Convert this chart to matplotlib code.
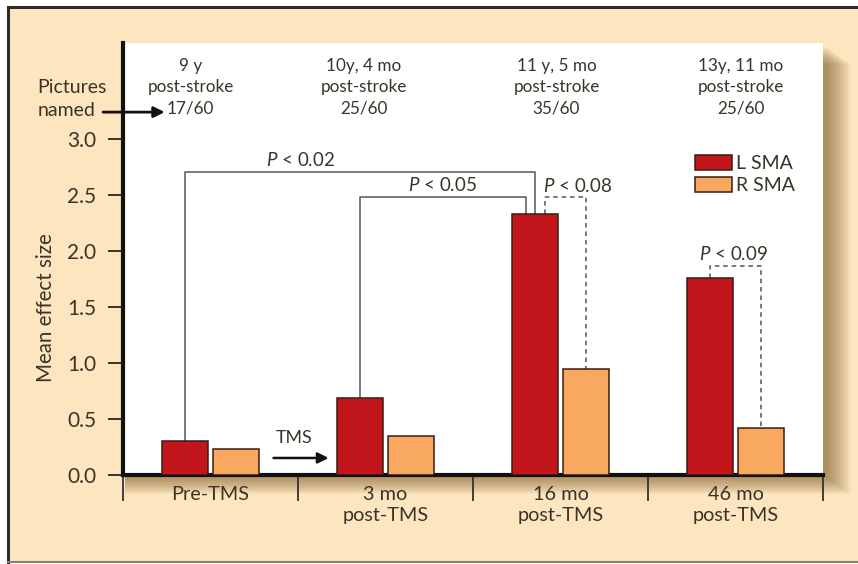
import matplotlib
matplotlib.use("Agg")
import matplotlib.pyplot as plt
from matplotlib.patches import Rectangle
from matplotlib.lines import Line2D

# data
groups = ["Pre-TMS", "3 mo\npost-TMS", "16 mo\npost-TMS", "46 mo\npost-TMS"]
l_sma = [0.30, 0.69, 2.33, 1.76]
r_sma = [0.23, 0.35, 0.95, 0.42]
top_notes = ["9 y\npost-stroke\n17/60", "10y, 4 mo\npost-stroke\n25/60",
             "11 y, 5 mo\npost-stroke\n35/60", "13y, 11 mo\npost-stroke\n25/60"]
yticks = [0.0, 0.5, 1.0, 1.5, 2.0, 2.5, 3.0]

plt.rcParams['font.family'] = ['Lato', 'DejaVu Sans']
plt.rcParams['mathtext.fontset'] = 'custom'
plt.rcParams['mathtext.it'] = 'Lato:italic'
plt.rcParams['mathtext.rm'] = 'Lato'

txt = '#3a3328'
cream = '#fde6bf'
red = '#c3161c'
orange = '#f8a95f'
edge = '#3a1c12'

W, H = 858, 564
fig = plt.figure(figsize=(W / 100, H / 100), dpi=100, facecolor='white')

# outer cream panel with top / left / bottom rules
fig.patches.append(Rectangle((8 / W, 1 - 562 / H), 1.0, (562 - 7) / H,
                             transform=fig.transFigure, facecolor=cream,
                             edgecolor='none', zorder=0))
fig.lines.append(Line2D([8 / W, 1], [1 - 7 / H, 1 - 7 / H], transform=fig.transFigure,
                        color='#2a2a2a', lw=2.2))
fig.lines.append(Line2D([8 / W, 8 / W], [1 - 7 / H, 1 - 562 / H], transform=fig.transFigure,
                        color='#2a2a2a', lw=2.2))
fig.lines.append(Line2D([8 / W, 1], [1 - 562 / H, 1 - 562 / H], transform=fig.transFigure,
                        color='#8a8070', lw=1.5))

ax_l, ax_r, ax_b, ax_t = 123, 823, 475, 43
# drop shadow behind white plot area
for k in range(18):
    fig.patches.append(Rectangle(((ax_l + 2) / W, 1 - (ax_b + 2 + k) / H),
                                 (ax_r - ax_l + 2 + 1.4 * k) / W, (ax_b - ax_t - 2) / H,
                                 transform=fig.transFigure, facecolor='#7a5420',
                                 edgecolor='none', alpha=0.045, zorder=1))

ax = fig.add_axes([ax_l / W, 1 - ax_b / H, (ax_r - ax_l) / W, (ax_b - ax_t) / H])
ax.set_facecolor('white')
ax.set_zorder(2)

x = range(len(groups))
w = 0.262
off = 0.145
xl = [i - off for i in x]
xr = [i + off for i in x]
ax.bar(xl, l_sma, w, color=red, edgecolor=edge, lw=1.1, label='L SMA', zorder=3)
ax.bar(xr, r_sma, w, color=orange, edgecolor=edge, lw=1.1, label='R SMA', zorder=3)

ax.set_xlim(-0.5, 3.5)
ax.set_ylim(0, (ax_b - ax_t) / 112)

for s in ['top', 'right']:
    ax.spines[s].set_visible(False)
ax.spines['left'].set_linewidth(3)
ax.spines['bottom'].set_linewidth(3)
ax.spines['left'].set_color('#111111')
ax.spines['bottom'].set_color('#111111')

ax.set_yticks(yticks)
ax.set_yticklabels([f"{v:.1f}" for v in yticks], fontsize=15, color=txt)
ax.tick_params(axis='y', direction='out', length=11, width=1.4, pad=8, color='#333333')

ax.set_xticks(list(x))
ax.set_xticklabels(groups, fontsize=14.3, color=txt, linespacing=1.3)
ax.tick_params(axis='x', which='major', length=0, pad=8)
ax.set_xticks([-0.5, 0.5, 1.5, 2.5, 3.5], minor=True)
ax.tick_params(axis='x', which='minor', direction='out', length=19, width=1.3, color='#333333')

ax.set_ylabel("Mean effect size", fontsize=14.8, color=txt)
ax.yaxis.set_label_coords((56 - ax_l) / 700, (ax_b - 308) / 432)

# top notes
note_x = [-0.114, 0.874, 1.977, 3.03]
for nx, note in zip(note_x, top_notes):
    ax.text(nx, 3.46, note, ha='center', va='center', fontsize=12.3, color=txt,
            linespacing=1.4)

ax.text(-0.99, 3.46, "Pictures", ha='left', va='center', fontsize=14, color=txt, clip_on=False)
ax.text(-0.99, 3.25, "named", ha='left', va='center', fontsize=14, color=txt, clip_on=False)
ax.annotate("", xy=(-0.262, 3.24), xytext=(-0.614, 3.24),
            arrowprops=dict(arrowstyle='-|>', color='#111111', lw=2, mutation_scale=16,
                            shrinkA=0, shrinkB=0), annotation_clip=False)

# TMS arrow
ax.text(0.48, 0.33, "TMS", ha='center', va='center', fontsize=12.8, color=txt)
ax.annotate("", xy=(0.675, 0.152), xytext=(0.36, 0.152),
            arrowprops=dict(arrowstyle='-|>', color='#111111', lw=1.8, mutation_scale=16,
                            shrinkA=0, shrinkB=0))

# significance brackets
lc = '#555555'
ax.plot([xl[0], xl[0], 1.857, 1.857], [l_sma[0], 2.705, 2.705, l_sma[2]], color=lc, lw=1.1, zorder=2)
ax.plot([xl[1], xl[1], 1.80, 1.80], [l_sma[1], 2.48, 2.48, l_sma[2]], color=lc, lw=1.1, zorder=2)
ax.plot([1.914, 1.914, xr[2], xr[2]], [l_sma[2], 2.48, 2.48, r_sma[2]], color=lc, lw=1.1,
        ls=(0, (3, 2.5)), zorder=2)
ax.plot([xl[3], xl[3], xr[3], xr[3]], [l_sma[3], 1.866, 1.866, r_sma[3]], color=lc, lw=1.1,
        ls=(0, (3, 2.5)), zorder=2)

pfs = 13.5
ax.text(0.514, 2.81, r"$P$ < 0.02", ha='center', va='center', fontsize=pfs, color=txt)
ax.text(1.326, 2.59, r"$P$ < 0.05", ha='center', va='center', fontsize=pfs, color=txt)
ax.text(2.10, 2.58, r"$P$ < 0.08", ha='center', va='center', fontsize=pfs, color=txt)
ax.text(2.99, 1.97, r"$P$ < 0.09", ha='center', va='center', fontsize=pfs, color=txt)

leg = ax.legend(loc='upper left', bbox_to_anchor=((695 - ax_l) / 700, (ax_b - 155) / 432),
                frameon=False, fontsize=14, handlelength=1.9, handleheight=0.8,
                labelspacing=0.25, borderpad=0, borderaxespad=0, handletextpad=0.2)
for t in leg.get_texts():
    t.set_color(txt)

fig.savefig("out.png", dpi=100, facecolor=fig.get_facecolor())
